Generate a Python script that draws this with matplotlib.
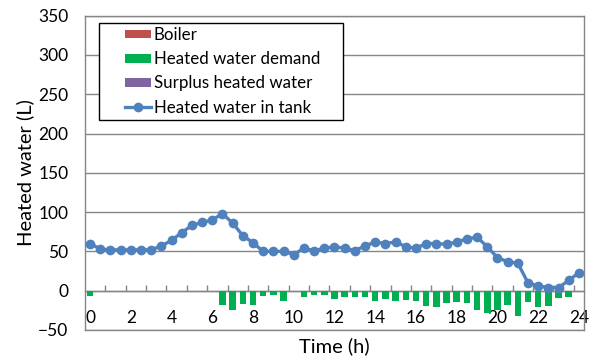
import numpy as np
import matplotlib
matplotlib.use("Agg")
import matplotlib.pyplot as plt
from matplotlib.ticker import MultipleLocator, FixedLocator
from matplotlib.patches import Rectangle

plt.rcParams['font.family'] = ['Lato', 'DejaVu Sans']

# Half-hourly time steps over one day
hours = np.arange(0, 24.5, 0.5)

# Heated water stored in the tank (L)
tank = [60, 53, 52, 52, 52, 52, 52, 57, 64, 74, 83, 87, 90, 98, 86, 70,
        61, 50, 50, 50, 46, 54, 51, 54, 56, 54, 51, 57, 62, 60, 62, 56,
        54, 60, 60, 59, 62, 66, 68, 56, 42, 37, 35, 10, 6, 4, 4, 13, 23]

# Heated water drawn off (L, negative = demand)
demand = [-7, 0, 0, 0, 0, 0, 0, 0, 0, 0, 0, 0, 0, -18, -25, -17,
          -18, -7, -5, -13, 0, -8, -5, -5, -10, -8, -8, -8, -13, -11, -13, -12,
          -13, -19, -21, -16, -14, -16, -25, -29, -24, -18, -32, -14, -21, -20, -9, -8, 0]

# Boiler output and surplus heated water (L)
boiler = [0] * len(hours)
surplus = [0] * len(hours)

fig = plt.figure(figsize=(5.93, 3.61), dpi=100)
ax = fig.add_axes([85 / 593, 1 - 330 / 361, (584 - 85) / 593, (330 - 15.6) / 361])

grid_col = '#868686'
bar_w = 0.32
b1 = ax.bar(hours, boiler, width=bar_w, color='#C0504D', linewidth=0, label='Boiler', zorder=3)
b2 = ax.bar(hours, demand, width=bar_w, color='#00B050', linewidth=0, label='Heated water demand', zorder=3)
b3 = ax.bar(hours, surplus, width=bar_w, color='#8064A2', linewidth=0, label='Surplus heated water', zorder=3)
ln, = ax.plot(hours, tank, color='#4F81BD', linewidth=2.4, marker='o', markersize=7,
              markeredgewidth=0, label='Heated water in tank', zorder=4)

ax.set_xlim(-0.25, 24.25)
ax.set_ylim(-50, 350)
ax.yaxis.set_major_locator(MultipleLocator(50))
ax.grid(axis='y', color=grid_col, linewidth=1.0, zorder=1)
ax.set_axisbelow(True)

# Category axis drawn through zero, labels placed low
ax.spines['bottom'].set_position(('data', 0))
for s in ['bottom', 'left', 'right', 'top']:
    ax.spines[s].set_color(grid_col)
    ax.spines[s].set_linewidth(1.0)
ax.plot([0, 1], [0, 0], transform=ax.transAxes, color=grid_col, linewidth=1.0, clip_on=False)

ax.set_xticks(np.arange(0, 25, 2))
ax.set_xticklabels([str(v) for v in range(0, 25, 2)])
ax.xaxis.set_minor_locator(FixedLocator(np.arange(0.75, 24, 1.0)))
ax.tick_params(axis='x', which='major', length=0, pad=14, labelsize=12.5, colors='black')
ax.tick_params(axis='x', which='minor', length=4, direction='in', color=grid_col, width=1.0)
ax.tick_params(axis='y', length=0, pad=12, labelsize=12.5)

ax.set_ylabel('Heated water (L)', fontsize=14.5, labelpad=3)
ax.set_xlabel('Time (h)', fontsize=14.5)
ax.xaxis.label.set_va('center')
ax.xaxis.set_label_coords(0.5, -0.053)

# Legend with a separately drawn frame
ax.add_patch(Rectangle((0.028, 0.668), 0.489, 0.3094, transform=ax.transAxes,
                       facecolor='white', edgecolor='black', linewidth=1.0, zorder=5))
leg = ax.legend([b1, b2, b3, ln],
                ['Boiler', 'Heated water demand', 'Surplus heated water', 'Heated water in tank'],
                loc='upper left', bbox_to_anchor=(0.080, 0.963), fontsize=12.2,
                frameon=False, borderpad=0, labelspacing=0.48, handlelength=1.55,
                handleheight=0.4, handletextpad=0.15, borderaxespad=0)
leg.set_zorder(6)

fig.savefig('out.png', dpi=100)
